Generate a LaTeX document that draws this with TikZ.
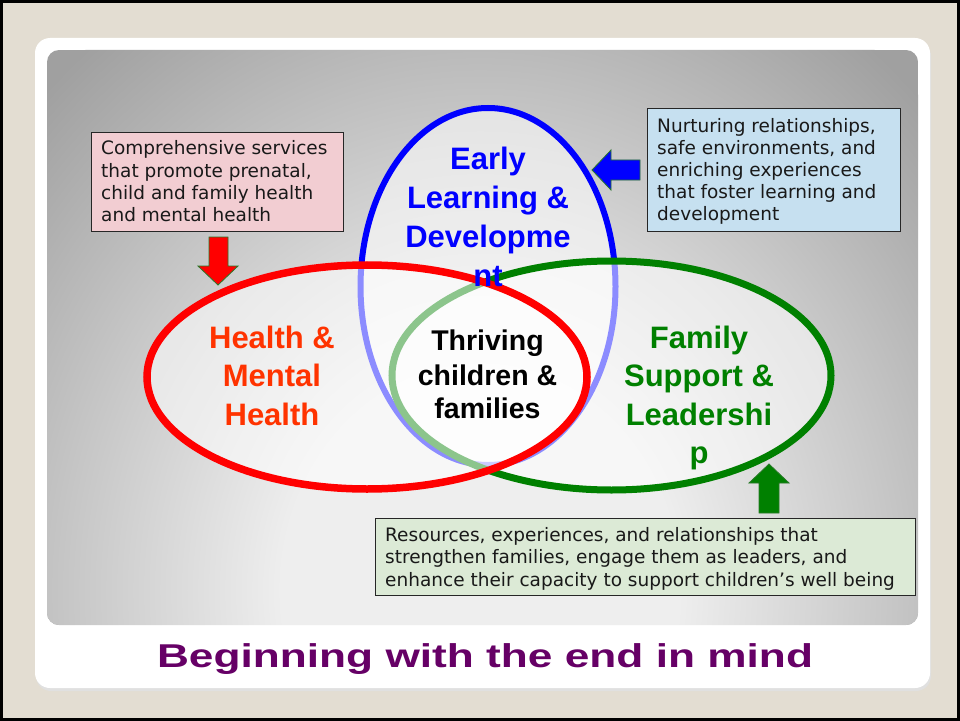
\documentclass[tikz,border=0pt]{standalone}
\usepackage{graphicx}
\usepackage{fontspec}
\setmainfont{Liberation Sans}
\newfontfamily\boxfont{DejaVu Sans}
\definecolor{beige}{RGB}{227,221,210}
\definecolor{bgA}{RGB}{238,238,238}
\definecolor{bgB}{RGB}{160,160,160}
\definecolor{vblue}{RGB}{0,0,255}
\definecolor{vred}{RGB}{255,0,0}
\definecolor{vgreen}{RGB}{0,128,0}
\definecolor{lblred}{RGB}{255,51,0}
\definecolor{pinkfill}{RGB}{242,205,210}
\definecolor{bluefill}{RGB}{198,224,240}
\definecolor{greenfill}{RGB}{220,234,214}
\definecolor{titlepurple}{RGB}{102,0,102}
\definecolor{arrowedge}{RGB}{40,120,40}
\pgfdeclareradialshading{bgshade}{\pgfpointorigin}{color(0bp)=(bgA); color(8bp)=(bgA); color(25bp)=(bgB); color(50bp)=(bgB)}
\tikzset{
  callout/.style={draw=black!85, line width=1bp, inner sep=0pt, anchor=north west},
  boxtext/.style={font=\boxfont\fontsize{18.5bp}{22bp}\selectfont, text=black!90, inner sep=0pt, anchor=base west},
  vennlabel/.style={font=\fontsize{31bp}{38bp}\selectfont\bfseries, inner sep=0pt, anchor=base},
  centerlabel/.style={font=\fontsize{28.5bp}{35bp}\selectfont\bfseries, inner sep=0pt, anchor=base, text=black},
  blockarrow/.style={draw=arrowedge, line width=0.8bp, line join=miter},
  venn/.style={fill=white, fill opacity=0.55}
}
\begin{document}
\begin{tikzpicture}[x=1bp,y=-1bp]
\useasboundingbox (0,0) rectangle (960,721);
\fill[beige] (0,0) rectangle (960,721);
\draw[black, line width=3bp] (1.5,1.5) rectangle (958.5,719.5);
% panel
\fill[black!12, rounded corners=15bp] (36,41) rectangle (931,691);
\fill[white, rounded corners=15bp] (35,38) rectangle (930,688);
\begin{scope}
  \clip[rounded corners=12bp] (47,50) rectangle (918,625);
  \fill[bgB] (47,50) rectangle (918,625);
  \shade[shading=bgshade] (480,590) ellipse [x radius=620bp, y radius=700bp];
\end{scope}
% venn ellipses
\filldraw[venn, draw=vblue, line width=6bp] (488,286.5) ellipse [x radius=127.5bp, y radius=178.5bp];
\filldraw[venn, draw=vgreen, line width=7bp] (611.5,375.5) ellipse [x radius=219.5bp, y radius=114.5bp];
\filldraw[venn, draw=vred, line width=7.5bp] (367,377) ellipse [x radius=220bp, y radius=112bp];
% labels
\node[vennlabel, text=vblue] (el1) at (488,170) {Early};
\node[vennlabel, text=vblue] (el2) at (488,208.5) {Learning \&};
\node[vennlabel, text=vblue] (el3) at (488,247) {Developme};
\node[vennlabel, text=vblue] (el4) at (488,286.5) {nt};
\node[vennlabel, text=lblred] (hm1) at (272,348) {Health \&};
\node[vennlabel, text=lblred] (hm2) at (272,386.5) {Mental};
\node[vennlabel, text=lblred] (hm3) at (272,425) {Health};
\node[vennlabel, text=vgreen] (fs1) at (699,348) {Family};
\node[vennlabel, text=vgreen] (fs2) at (699,386.5) {Support \&};
\node[vennlabel, text=vgreen] (fs3) at (699,425) {Leadershi};
\node[vennlabel, text=vgreen] (fs4) at (699,463.5) {p};
\node[centerlabel] (tc1) at (487.5,350) {Thriving};
\node[centerlabel] (tc2) at (487.5,385) {children \&};
\node[centerlabel] (tc3) at (487.5,418) {families};
% callout boxes
\node[callout, fill=pinkfill, minimum width=252bp, minimum height=99bp] (hbox) at (91,132) {};
\node[boxtext] (h1) at (101,155) {Comprehensive services};
\node[boxtext] (h2) at (101,177.3) {that promote prenatal,};
\node[boxtext] (h3) at (101,199.6) {child and family health};
\node[boxtext] (h4) at (101,221.9) {and mental health};
\node[callout, fill=bluefill, minimum width=253bp, minimum height=123bp] (ebox) at (647,108) {};
\node[boxtext] (e1) at (657,133) {Nurturing relationships,};
\node[boxtext] (e2) at (657,154.8) {safe environments, and};
\node[boxtext] (e3) at (657,176.6) {enriching experiences};
\node[boxtext] (e4) at (657,198.4) {that foster learning and};
\node[boxtext] (e5) at (657,220.2) {development};
\node[callout, fill=greenfill, minimum width=540bp, minimum height=77bp] (fbox) at (375,518) {};
\node[boxtext] (f1) at (385,541) {Resources, experiences, and relationships that};
\node[boxtext] (f2) at (385,563.5) {strengthen families, engage them as leaders, and};
\node[boxtext] (f3) at (385,586) {enhance their capacity to support children’s well being};
% block arrows
\filldraw[blockarrow, fill=vred] (209,237) -- (228,237) -- (228,266) -- (238,266) -- (218,285) -- (198,266) -- (209,266) -- cycle;
\filldraw[blockarrow, fill=vblue] (640,160) -- (640,180) -- (611,180) -- (611,190) -- (592,170) -- (611,150) -- (611,160) -- cycle;
\filldraw[blockarrow, fill=vgreen] (759,513) -- (779,513) -- (779,483) -- (789,483) -- (769,464) -- (749,483) -- (759,483) -- cycle;
% title
\node[anchor=base, inner sep=0pt, text=titlepurple, font=\fontsize{33bp}{40bp}\selectfont\bfseries] (title) at (485,667) {\scalebox{1.34}[1]{Beginning with the end in mind}};
\end{tikzpicture}
\end{document}
